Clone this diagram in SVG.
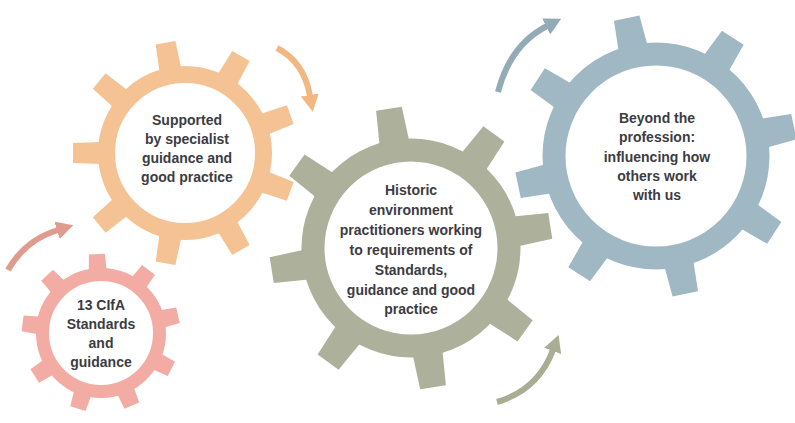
<svg xmlns="http://www.w3.org/2000/svg" xmlns:xlink="http://www.w3.org/1999/xlink" width="795" height="423" viewBox="0 0 795 423">
  <style>
    .label { font-family: "Liberation Sans", Arial, sans-serif; font-weight: 700; font-size: 14px; fill: #3c3c42; text-anchor: middle; }
    .arrow { fill: none; stroke-width: 6; stroke-linecap: butt; }
  </style>
  <defs>
    <!-- tooth outlines, pointing up from the gear centre -->
    <path id="tooth-s" d="M-9,-61 L-8,-79 L8,-79 L9,-61 Z"/>
    <path id="tooth-m" d="M-11,-84 L-10,-112 L10,-112 L11,-84 Z"/>
    <path id="tooth-l" d="M-15,-106 L-13,-141 L13,-141 L15,-106 Z"/>
    <marker id="head-pink" markerUnits="userSpaceOnUse" viewBox="0 0 17 18" markerWidth="17" markerHeight="18" refX="1" refY="9" orient="auto">
      <path d="M0,0 L17,9 L0,18 Z" fill="#df9c8e"/>
    </marker>
    <marker id="head-orange" markerUnits="userSpaceOnUse" viewBox="0 0 17 18" markerWidth="17" markerHeight="18" refX="1" refY="9" orient="auto">
      <path d="M0,0 L17,9 L0,18 Z" fill="#f1b882"/>
    </marker>
    <marker id="head-blue" markerUnits="userSpaceOnUse" viewBox="0 0 17 18" markerWidth="17" markerHeight="18" refX="1" refY="9" orient="auto">
      <path d="M0,0 L17,9 L0,18 Z" fill="#93abb6"/>
    </marker>
    <marker id="head-olive" markerUnits="userSpaceOnUse" viewBox="0 0 17 18" markerWidth="17" markerHeight="18" refX="1" refY="9" orient="auto">
      <path d="M0,0 L17,9 L0,18 Z" fill="#a9ad94"/>
    </marker>
  </defs>

  <rect width="795" height="423" fill="#ffffff"/>

  <!-- rotation arrows -->
  <g id="connectors">
    <path class="arrow" stroke="#df9c8e" d="M8,270 Q25,240 58,230" marker-end="url(#head-pink)"/>
    <path class="arrow" stroke="#f1b882" d="M277,48 Q304,62 310,96" marker-end="url(#head-orange)"/>
    <path class="arrow" stroke="#93abb6" d="M498,92 Q510,45 547,26" marker-end="url(#head-blue)"/>
    <path class="arrow" stroke="#a9ad94" d="M497,402 Q538,390 553,350" marker-end="url(#head-olive)"/>
  </g>

  <!-- small gear: standards -->
  <g id="gear-standards" fill="#f2aca3">
    <g transform="translate(101,333)">
      <circle r="58.5" fill="none" stroke="#f2aca3" stroke-width="13"/>
      <use xlink:href="#tooth-s" transform="rotate(-3)"/>
      <use xlink:href="#tooth-s" transform="rotate(37)"/>
      <use xlink:href="#tooth-s" transform="rotate(77)"/>
      <use xlink:href="#tooth-s" transform="rotate(117)"/>
      <use xlink:href="#tooth-s" transform="rotate(157)"/>
      <use xlink:href="#tooth-s" transform="rotate(197)"/>
      <use xlink:href="#tooth-s" transform="rotate(237)"/>
      <use xlink:href="#tooth-s" transform="rotate(277)"/>
      <use xlink:href="#tooth-s" transform="rotate(317)"/>
    </g>
    <text class="label" x="101" y="310">13 CIfA</text>
    <text class="label" x="101" y="329">Standards</text>
    <text class="label" x="101" y="348">and</text>
    <text class="label" x="101" y="367">guidance</text>
  </g>

  <!-- medium gear: specialist guidance -->
  <g id="gear-specialist" fill="#f5c393">
    <g transform="translate(185,153)">
      <circle r="78.5" fill="none" stroke="#f5c393" stroke-width="17"/>
      <use xlink:href="#tooth-m" transform="rotate(-10)"/>
      <use xlink:href="#tooth-m" transform="rotate(30)"/>
      <use xlink:href="#tooth-m" transform="rotate(70)"/>
      <use xlink:href="#tooth-m" transform="rotate(110)"/>
      <use xlink:href="#tooth-m" transform="rotate(150)"/>
      <use xlink:href="#tooth-m" transform="rotate(190)"/>
      <use xlink:href="#tooth-m" transform="rotate(230)"/>
      <use xlink:href="#tooth-m" transform="rotate(270)"/>
      <use xlink:href="#tooth-m" transform="rotate(310)"/>
    </g>
    <text class="label" x="187" y="125">Supported</text>
    <text class="label" x="187" y="144">by specialist</text>
    <text class="label" x="187" y="163">guidance and</text>
    <text class="label" x="187" y="182">good practice</text>
  </g>

  <!-- large gear: practitioners -->
  <g id="gear-practitioners" fill="#adb09a">
    <g transform="translate(411,248)">
      <circle r="98" fill="none" stroke="#adb09a" stroke-width="23"/>
      <use xlink:href="#tooth-l" transform="rotate(-9)"/>
      <use xlink:href="#tooth-l" transform="rotate(36)"/>
      <use xlink:href="#tooth-l" transform="rotate(81)"/>
      <use xlink:href="#tooth-l" transform="rotate(126)"/>
      <use xlink:href="#tooth-l" transform="rotate(171)"/>
      <use xlink:href="#tooth-l" transform="rotate(216)"/>
      <use xlink:href="#tooth-l" transform="rotate(261)"/>
      <use xlink:href="#tooth-l" transform="rotate(306)"/>
    </g>
    <text class="label" x="411" y="195">Historic</text>
    <text class="label" x="411" y="215">environment</text>
    <text class="label" x="411" y="235">practitioners working</text>
    <text class="label" x="411" y="255">to requirements of</text>
    <text class="label" x="411" y="275">Standards,</text>
    <text class="label" x="411" y="295">guidance and good</text>
    <text class="label" x="411" y="314">practice</text>
  </g>

  <!-- large gear: beyond the profession -->
  <g id="gear-beyond" fill="#a0b8c3">
    <g transform="translate(656,156)">
      <circle r="102" fill="none" stroke="#a0b8c3" stroke-width="23"/>
      <use xlink:href="#tooth-l" transform="rotate(-12)"/>
      <use xlink:href="#tooth-l" transform="rotate(33)"/>
      <use xlink:href="#tooth-l" transform="rotate(78)"/>
      <use xlink:href="#tooth-l" transform="rotate(123)"/>
      <use xlink:href="#tooth-l" transform="rotate(168)"/>
      <use xlink:href="#tooth-l" transform="rotate(213)"/>
      <use xlink:href="#tooth-l" transform="rotate(258)"/>
      <use xlink:href="#tooth-l" transform="rotate(303)"/>
    </g>
    <text class="label" x="657" y="123">Beyond the</text>
    <text class="label" x="657" y="142">profession:</text>
    <text class="label" x="657" y="162">influencing how</text>
    <text class="label" x="657" y="181">others work</text>
    <text class="label" x="657" y="200">with us</text>
  </g>
</svg>
